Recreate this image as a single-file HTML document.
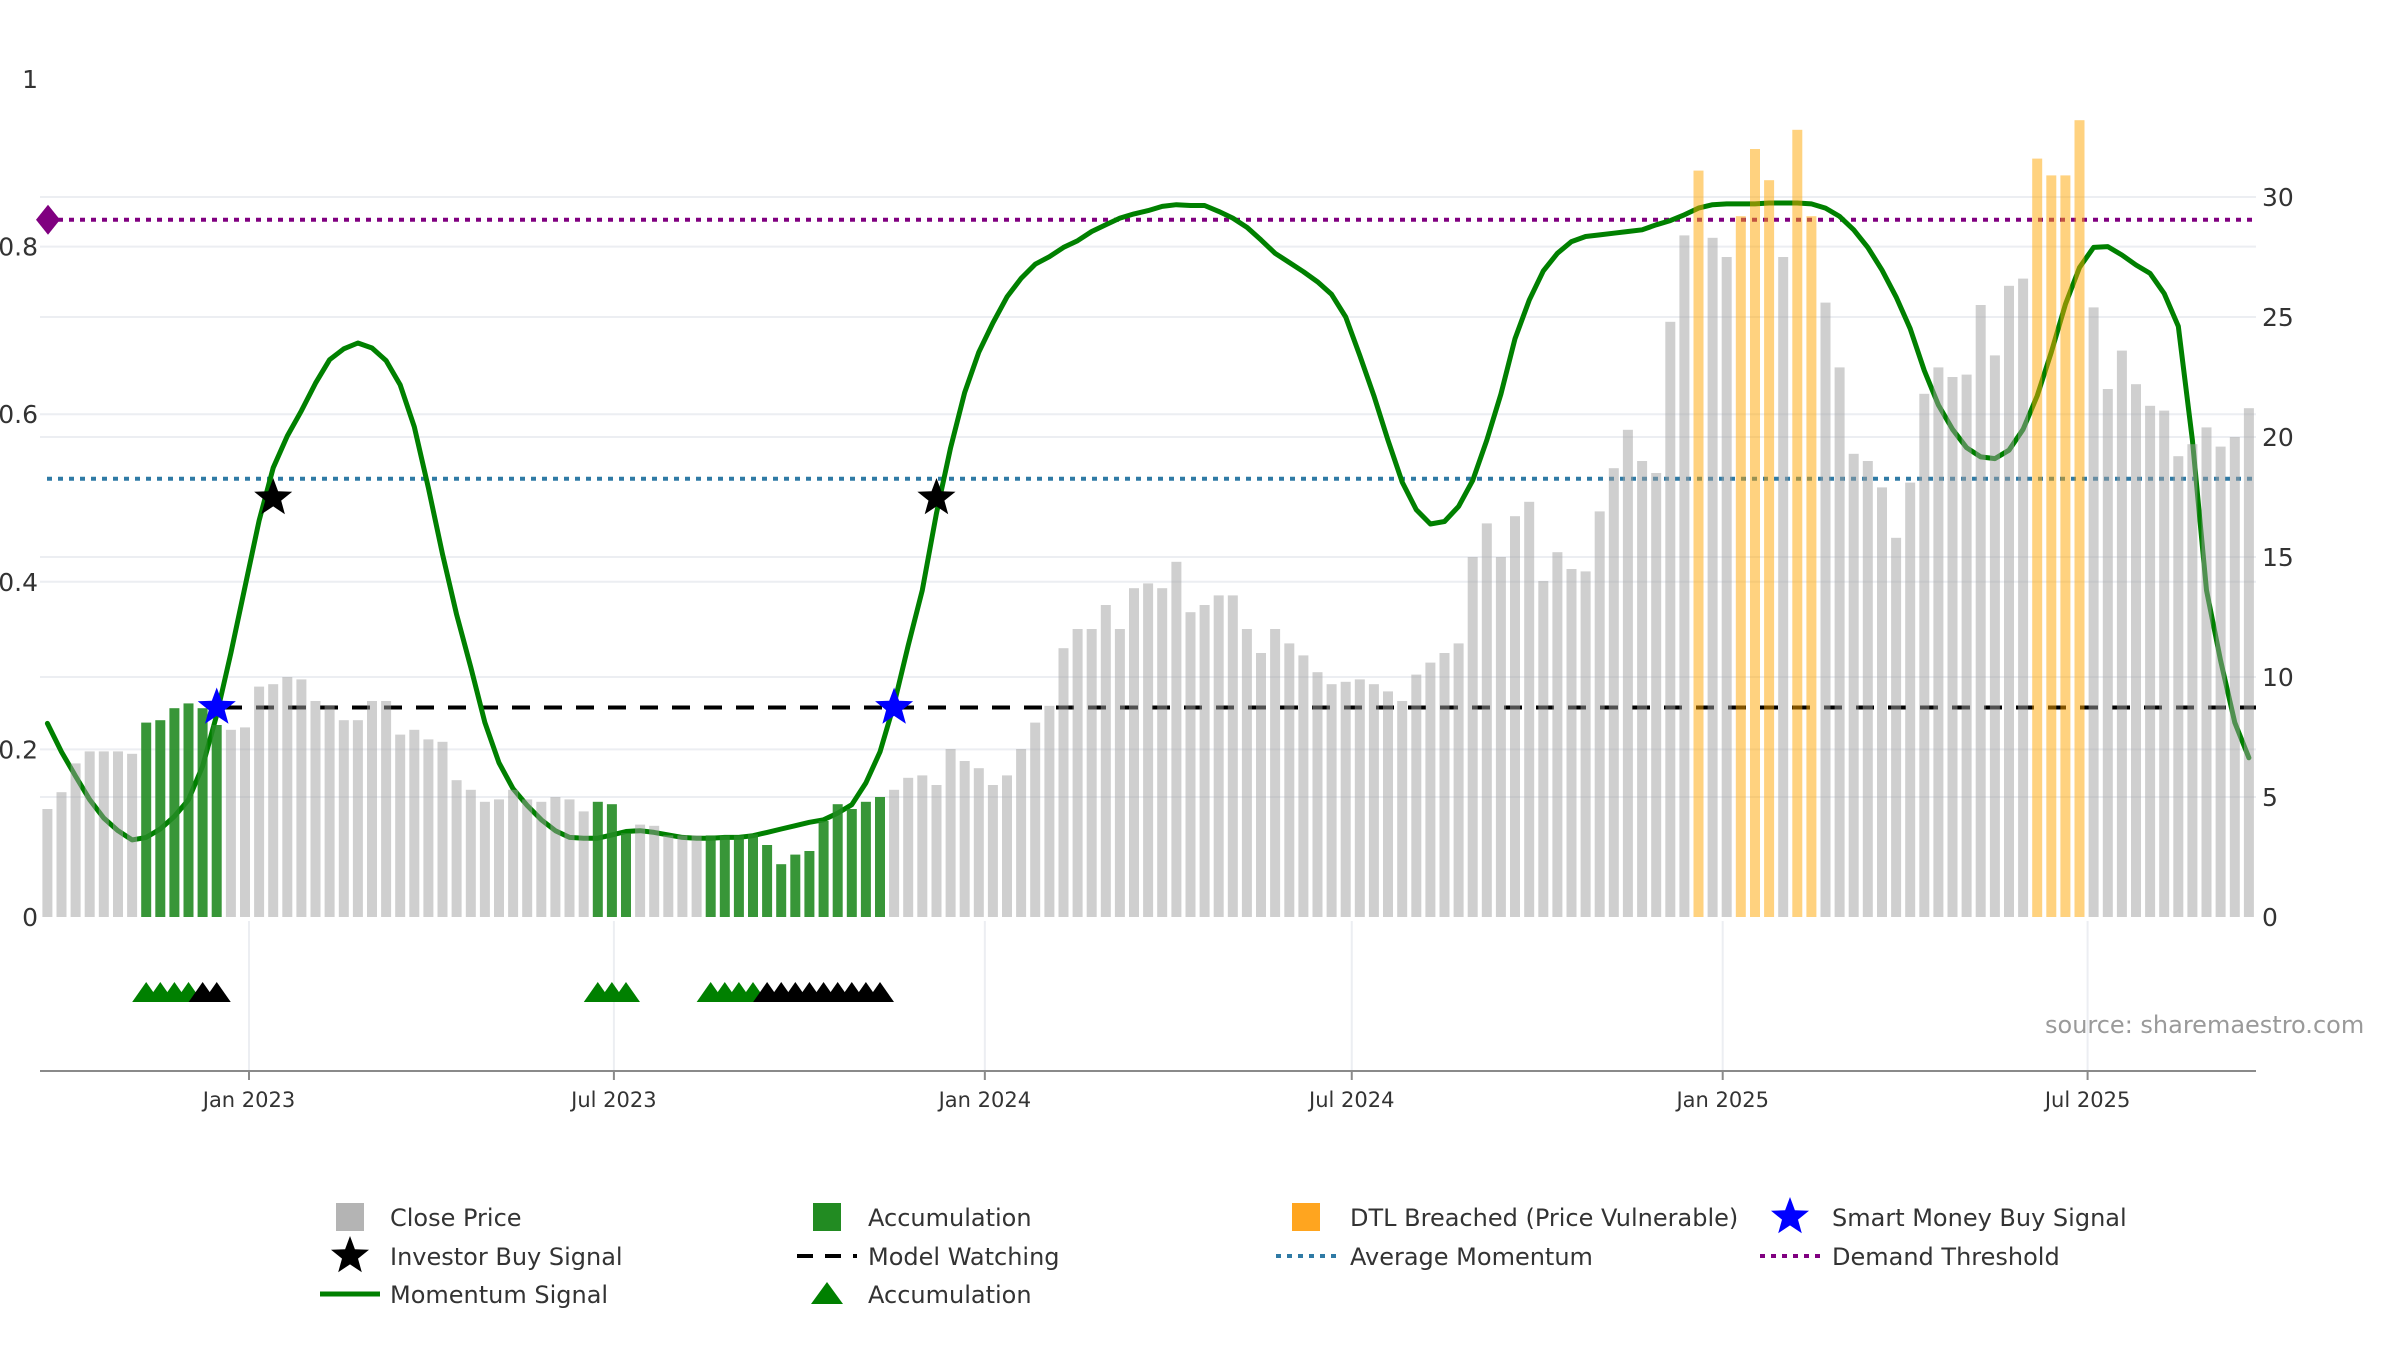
<!DOCTYPE html>
<html><head><meta charset="utf-8">
<style>
html,body{margin:0;padding:0;background:#fff;}
svg{display:block;font-family:"DejaVu Sans","Liberation Sans",sans-serif;}
</style></head>
<body>
<svg id="chart" width="2400" height="1350" viewBox="0 0 2400 1350" xmlns="http://www.w3.org/2000/svg">
<g id="grid"></g>
<g id="lines"></g>
<g id="momentum"></g>
<g id="bars"></g>
<g id="markers"></g>
<g id="axes"></g>
<text x="2045" y="1033" font-size="24" fill="#9a9a9a">source: sharemaestro.com</text>
<g id="legend"></g>
</svg>
<script>
// ---- data ----
const startDay = -100; // days from 2023-01-01 of first weekly bar
const closePrices = [4.5,5.2,6.4,6.9,6.9,6.9,6.8,8.1,8.2,8.7,8.9,8.7,8.0,7.8,7.9,9.6,9.7,10.0,9.9,9.0,8.8,8.2,8.2,9.0,9.0,7.6,7.8,7.4,7.3,5.7,5.3,4.8,4.9,5.3,4.9,4.8,5.0,4.9,4.4,4.8,4.7,3.5,3.85,3.8,3.4,3.4,3.4,3.4,3.4,3.4,3.45,3.0,2.2,2.6,2.75,4.0,4.7,4.5,4.8,5.0,5.3,5.8,5.9,5.5,7.0,6.5,6.2,5.5,5.9,7.0,8.1,8.8,11.2,12.0,12.0,13.0,12.0,13.7,13.9,13.7,14.8,12.7,13.0,13.4,13.4,12.0,11.0,12.0,11.4,10.9,10.2,9.7,9.8,9.9,9.7,9.4,9.0,10.1,10.6,11.0,11.4,15.0,16.4,15.0,16.7,17.3,14.0,15.2,14.5,14.4,16.9,18.7,20.3,19.0,18.5,24.8,28.4,31.1,28.3,27.5,29.2,32.0,30.7,27.5,32.8,29.2,25.6,22.9,19.3,19.0,17.9,15.8,18.1,21.8,22.9,22.5,22.6,25.5,23.4,26.3,26.6,31.6,30.9,30.9,33.2,25.4,22.0,23.6,22.2,21.3,21.1,19.2,19.7,20.4,19.6,20.0,21.2];
const accumulationBars = [8,9,10,11,12,13,40,41,42,48,49,50,51,52,53,54,55,56,57,58,59,60];
const dtlBars = [118,121,122,123,125,126,142,143,144,145];
const momentumValues = [0.231,0.197,0.168,0.140,0.118,0.103,0.092,0.095,0.105,0.120,0.140,0.180,0.241,0.315,0.394,0.473,0.536,0.574,0.604,0.637,0.665,0.678,0.685,0.679,0.664,0.635,0.585,0.512,0.433,0.361,0.298,0.232,0.184,0.153,0.133,0.116,0.103,0.095,0.094,0.094,0.098,0.102,0.103,0.101,0.098,0.095,0.094,0.094,0.095,0.095,0.097,0.101,0.105,0.109,0.113,0.116,0.124,0.134,0.160,0.197,0.254,0.324,0.390,0.482,0.560,0.626,0.674,0.709,0.740,0.762,0.779,0.788,0.799,0.807,0.818,0.826,0.834,0.839,0.843,0.848,0.850,0.849,0.849,0.842,0.834,0.823,0.808,0.792,0.781,0.770,0.758,0.743,0.716,0.670,0.622,0.569,0.519,0.486,0.469,0.472,0.490,0.521,0.569,0.624,0.690,0.736,0.771,0.792,0.806,0.812,0.814,0.816,0.818,0.820,0.826,0.831,0.838,0.846,0.850,0.851,0.851,0.851,0.852,0.852,0.852,0.851,0.846,0.836,0.820,0.799,0.772,0.740,0.702,0.652,0.611,0.582,0.560,0.549,0.547,0.557,0.582,0.622,0.674,0.731,0.775,0.799,0.800,0.790,0.778,0.768,0.744,0.705,0.569,0.390,0.306,0.232,0.190];
const triangleBars = [8,9,10,11,12,13,40,41,42,48,49,50,51,52,53,54,55,56,57,58,59,60];
const triangleKinds = ['a','a','a','a','w','w','a','a','a','a','a','a','a','w','w','w','w','w','w','w','w','w'];
const smartMoneyBars = [13,61];
const smartMoneyValues = [0.25,0.25];
const investorBars = [17,64];
const investorValues = [0.5,0.5];
const demandThreshold = 0.832;
const averageMomentum = 0.523;
const modelWatching = 0.25;
const leftTicks = [0,0.2,0.4,0.6,0.8,1];
const leftTickLabels = ['0','0.2','0.4','0.6','0.8','1'];
const rightTicks = [0,5,10,15,20,25,30];
const xTickDays = [0,181,365,547,731,912];
const xTickLabels = ['Jan 2023','Jul 2023','Jan 2024','Jul 2024','Jan 2025','Jul 2025'];

// ---- scales ----
const X0 = 40, X1 = 2256;
function xDay(d){ return 249 + d*2.016; }
function xBar(i){ return xDay(startDay + (i-1)*7); }
function yL(v){ return 917 - v*838; }
function yR(p){ return 917 - p*24; }
const NS = 'http://www.w3.org/2000/svg';
function mk(tag, attrs, parent){ const e=document.createElementNS(NS,tag); for(const k in attrs) e.setAttribute(k,attrs[k]); parent.appendChild(e); return e; }
function starPts(cx,cy,R){ const r=R*0.42; let p=[]; for(let k=0;k<10;k++){ const a=-Math.PI/2+k*Math.PI/5; const rr=k%2?r:R; p.push((cx+rr*Math.cos(a)).toFixed(1)+','+(cy+rr*Math.sin(a)).toFixed(1)); } return p.join(' '); }

const grid=document.getElementById('grid'), lines=document.getElementById('lines'), mom=document.getElementById('momentum'), bars=document.getElementById('bars'), markers=document.getElementById('markers'), axes=document.getElementById('axes'), legend=document.getElementById('legend');

leftTicks.slice(1,5).forEach(v=>{
  const g = mk('line',{x1:X0,x2:X1,y1:yL(v),y2:yL(v),stroke:'#eceef2','stroke-width':2},grid);
  
  
});
rightTicks.slice(1).forEach(v=>{
  const g = mk('line',{x1:X0,x2:X1,y1:yR(v),y2:yR(v),stroke:'#eceef2','stroke-width':2},grid);
  
  
});
xTickDays.forEach(d=>{
  const g = mk('line',{x1:xDay(d),x2:xDay(d),y1:921,y2:1071,stroke:'#eceef2','stroke-width':2},grid);
  
  
});

let l1 = mk('line',{x1:47,x2:X1,y1:yL(demandThreshold),y2:yL(demandThreshold),stroke:'#800080','stroke-width':4,'stroke-dasharray':'5 6'},lines);


let l2 = mk('line',{x1:47,x2:X1,y1:yL(averageMomentum),y2:yL(averageMomentum),stroke:'#2f7aa5','stroke-width':4,'stroke-dasharray':'5 6'},lines);


let l3 = mk('line',{x1:224,x2:X1,y1:yL(modelWatching),y2:yL(modelWatching),stroke:'#000','stroke-width':4,'stroke-dasharray':'18 14'},lines);


let dia = mk('polygon',{points:`48,${yL(demandThreshold)-15} 60,${yL(demandThreshold)} 48,${yL(demandThreshold)+15} 36,${yL(demandThreshold)}`,fill:'#800080'},lines);



const pts = momentumValues.map((v,i)=>xBar(i+1).toFixed(1)+','+yL(v).toFixed(1)).join(' ');
let ml = mk('polyline',{points:pts,fill:'none',stroke:'#008000','stroke-width':5,'stroke-linejoin':'round','stroke-linecap':'round'},mom);



closePrices.forEach((p,i)=>{
  const n=i+1; let fill='rgba(160,160,160,0.5)', name='close-price-bar';
  if(accumulationBars.includes(n)){ fill='rgba(34,139,34,0.9)'; name='accumulation-bar'; }
  else if(dtlBars.includes(n)){ fill='rgba(255,165,0,0.5)'; name='dtl-breached-bar'; }
  const b = mk('rect',{x:(xBar(n)-5).toFixed(1),y:yR(p).toFixed(1),width:10,height:(917-yR(p)).toFixed(1),fill:fill},bars);
  
  
});

triangleBars.forEach((n,i)=>{
  const cx=xBar(n), base=1002;
  const t = mk('polygon',{points:`${cx-14},${base} ${cx},${base-20} ${cx+14},${base}`,fill:triangleKinds[i]==='a'?'#008000':'#000'},markers);
  
  
});
smartMoneyBars.forEach((n,i)=>{
  const s = mk('polygon',{points:starPts(xBar(n),yL(smartMoneyValues[i]),20),fill:'#0000ff'},markers);
  
  
});
investorBars.forEach((n,i)=>{
  const s = mk('polygon',{points:starPts(xBar(n),yL(investorValues[i]),20),fill:'#000'},markers);
  
  
});

let ax = mk('line',{x1:X0,x2:X1,y1:1071,y2:1071,stroke:'#8a8a8a','stroke-width':2},axes);


xTickDays.forEach((d,i)=>{
  const tk = mk('line',{x1:xDay(d),x2:xDay(d),y1:1071,y2:1080,stroke:'#8a8a8a','stroke-width':2},axes);
  
  
  const t = mk('text',{x:xDay(d),y:1107,'text-anchor':'middle','font-size':21,fill:'#333'},axes);
  t.textContent=xTickLabels[i];
  
  
});
leftTicks.forEach((v,i)=>{
  const t = mk('text',{x:38,y:yL(v)+9,'text-anchor':'end','font-size':25,fill:'#333'},axes);
  t.textContent=leftTickLabels[i];
  
  
});
rightTicks.forEach(v=>{
  const t = mk('text',{x:2262,y:yR(v)+9,'font-size':25,fill:'#333'},axes);
  t.textContent=String(v);
  
  
});

const legendLabels = ['Close Price','Accumulation','DTL Breached (Price Vulnerable)','Smart Money Buy Signal','Investor Buy Signal','Model Watching','Average Momentum','Demand Threshold','Momentum Signal','Accumulation'];
const legendIcons = ['sq-gray','sq-green','sq-orange','star-blue','star-black','dash-black','dot-blue','dot-purple','line-green','tri-green'];
const colIcon=[350,827,1306,1790], colText=[390,868,1350,1832], rowY=[1217,1256,1294];
legendLabels.forEach((lab,i)=>{
  const c=i%4, r=Math.floor(i/4), cx=colIcon[c], cy=rowY[r];
  const g = mk('g',{},legend);
  
  
  const ic=legendIcons[i];
  if(ic.startsWith('sq')){
    const col={'sq-gray':'#b4b4b4','sq-green':'#228b22','sq-orange':'#ffa51f'}[ic];
    mk('rect',{x:cx-14,y:cy-14,width:28,height:28,fill:col},g);
  } else if(ic.startsWith('star')){
    mk('polygon',{points:starPts(cx,cy,20),fill:ic==='star-blue'?'#0000ff':'#000'},g);
  } else if(ic==='dash-black'){
    mk('line',{x1:cx-30,x2:cx+30,y1:cy,y2:cy,stroke:'#000','stroke-width':4,'stroke-dasharray':'16 12'},g);
  } else if(ic.startsWith('dot')){
    mk('line',{x1:cx-30,x2:cx+30,y1:cy,y2:cy,stroke:ic==='dot-blue'?'#2f7aa5':'#800080','stroke-width':4,'stroke-dasharray':'5 6'},g);
  } else if(ic==='line-green'){
    mk('line',{x1:cx-30,x2:cx+30,y1:cy,y2:cy,stroke:'#008000','stroke-width':5},g);
  } else {
    mk('polygon',{points:`${cx-16},${cy+10} ${cx},${cy-12} ${cx+16},${cy+10}`,fill:'#008000'},g);
  }
  const t = mk('text',{x:colText[c],y:cy+9,'font-size':24,fill:'#333'},g);
  t.textContent=lab;
});
</script>
</body></html>
